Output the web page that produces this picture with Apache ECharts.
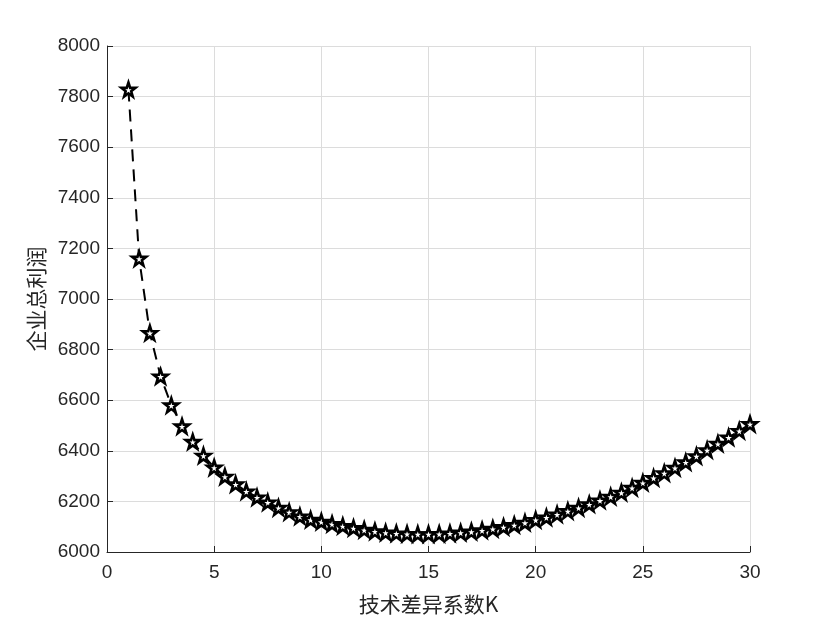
<!DOCTYPE html>
<html>
<head>
<meta charset="utf-8">
<script src="https://cdn.jsdelivr.net/npm/echarts@6/dist/echarts.min.js"></script>
<style>
html,body{margin:0;padding:0;background:#fff;}
#chart{width:827px;height:620px;}
</style>
</head>
<body>
<div id="chart"></div>
<script>
// Technology difference coefficient K
const kValues = [1,1.5,2,2.5,3,3.5,4,4.5,5,5.5,6,6.5,7,7.5,8,8.5,9,9.5,10,10.5,11,11.5,12,12.5,13,13.5,14,14.5,15,15.5,16,16.5,17,17.5,18,18.5,19,19.5,20,20.5,21,21.5,22,22.5,23,23.5,24,24.5,25,25.5,26,26.5,27,27.5,28,28.5,29,29.5,30];
// Total enterprise profit
const profitValues = [7828,7160,6866,6694,6580,6497,6436,6381,6334,6298,6268,6240,6216,6196,6175,6158,6141,6128,6120,6111,6103,6095,6088,6082,6077,6074,6072,6071,6071,6072,6074,6077,6081,6086,6092,6099,6107,6116,6127,6137,6149,6162,6175,6189,6204,6219,6235,6254,6274,6293,6312,6333,6355,6379,6403,6428,6453,6479,6506];
const xTicks = {min: 0, max: 30, interval: 5};
const yTicks = {min: 6000, max: 8000, interval: 200};
const xName = '技术差异系数K';
const yName = '企业总利润';

const starPath = 'path://M50,0 L61.8,35.1 L98.1,35.1 L68.8,56.7 L79.4,91.0 L50,70 L20.6,91.0 L31.2,56.7 L1.9,35.1 L38.2,35.1 Z';
const chart = echarts.init(document.getElementById('chart'), null, {renderer: 'canvas'});
const font = '"Liberation Sans", Arial, sans-serif';
const cjkFont = '"Noto Sans CJK SC", "Liberation Sans", sans-serif';
chart.setOption({
  animation: false,
  backgroundColor: '#ffffff',
  grid: {left: 107, right: 77, top: 46, bottom: 67, containLabel: false},
  xAxis: {
    type: 'value', min: xTicks.min, max: xTicks.max, interval: xTicks.interval,
    name: xName, nameLocation: 'middle', nameGap: 42,
    nameTextStyle: {fontFamily: cjkFont, fontSize: 21, color: '#262626'},
    axisLine: {show: true, onZero: false, lineStyle: {color: '#262626', width: 1}},
    axisTick: {show: true, inside: true, length: 6, lineStyle: {color: '#262626'}},
    axisLabel: {fontFamily: font, fontSize: 19, color: '#262626', margin: 11, formatter: v => String(v)},
    splitLine: {show: true, lineStyle: {color: '#dcdcdc', width: 1}}
  },
  yAxis: {
    type: 'value', min: yTicks.min, max: yTicks.max, interval: yTicks.interval,
    name: yName, nameLocation: 'middle', nameGap: 58,
    nameTextStyle: {fontFamily: cjkFont, fontSize: 21, color: '#262626'},
    axisLine: {show: true, onZero: false, lineStyle: {color: '#262626', width: 1}},
    axisTick: {show: true, inside: true, length: 6, lineStyle: {color: '#262626'}},
    axisLabel: {fontFamily: font, fontSize: 19, color: '#262626', margin: 7, formatter: v => String(v)},
    splitLine: {show: true, lineStyle: {color: '#dcdcdc', width: 1}}
  },
  series: [{
    type: 'line',
    data: kValues.map((k, i) => [k, profitValues[i]]),
    lineStyle: {color: '#000', width: 2, type: [12, 8]},
    symbol: starPath,
    symbolSize: 14,
    itemStyle: {color: '#ffffff', borderColor: '#000000', borderWidth: 2.6},
    z: 3
  }]
});
</script>
</body>
</html>
